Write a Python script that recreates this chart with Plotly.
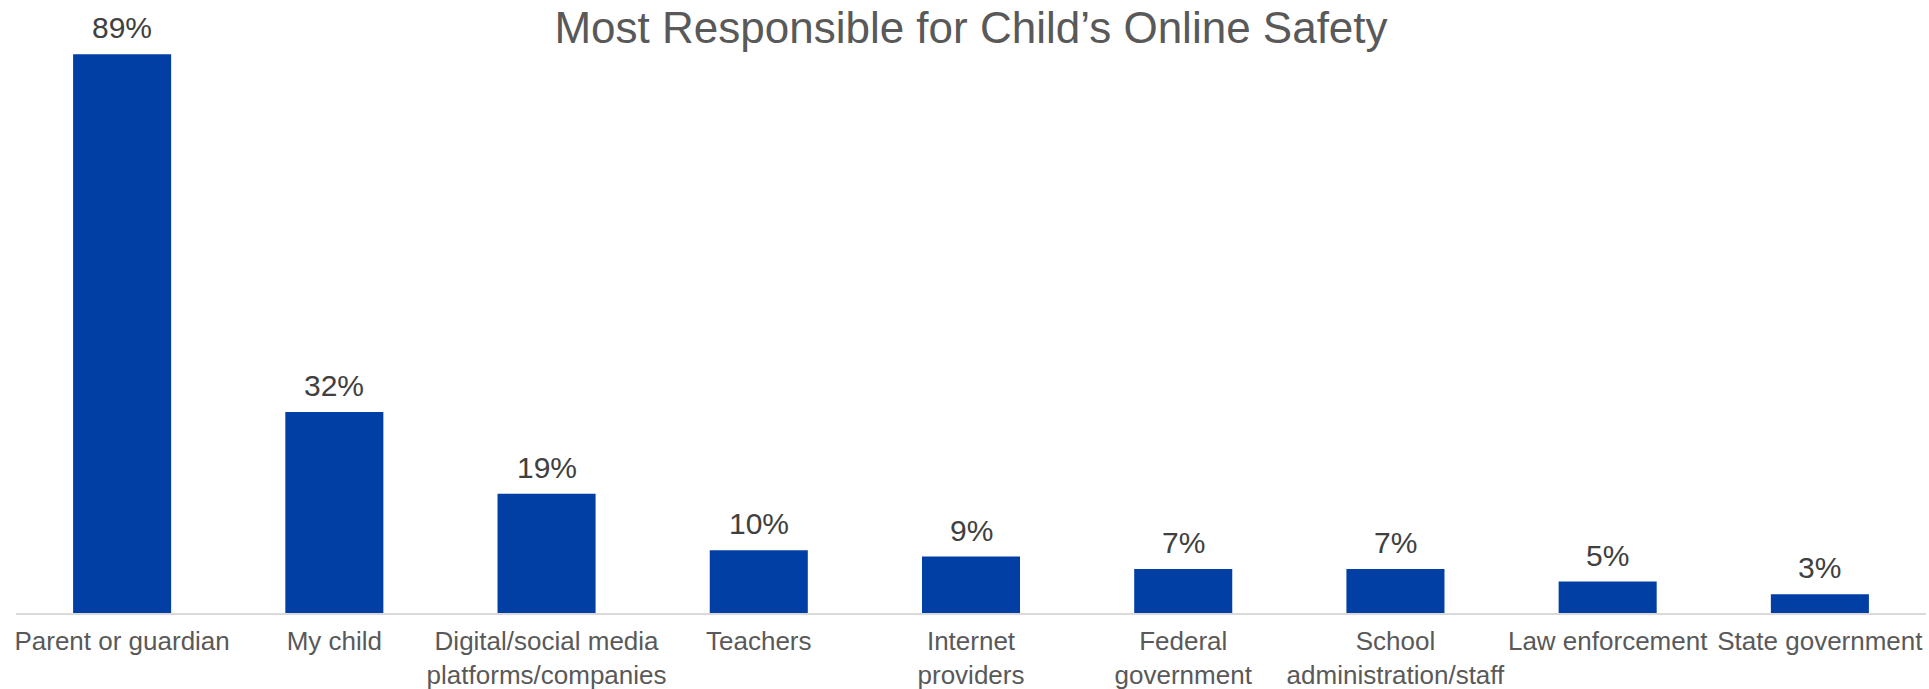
import plotly.graph_objects as go

# Survey results: who parents consider most responsible for their child's online safety
categories = [
    "Parent or guardian",
    "My child",
    "Digital/social media<br>platforms/companies",
    "Teachers",
    "Internet<br>providers",
    "Federal<br>government",
    "School<br>administration/staff",
    "Law enforcement",
    "State government",
]
shares = [89, 32, 19, 10, 9, 7, 7, 5, 3]
share_labels = [f"{v}%" for v in shares]

BAR_BLUE = "#023FA5"
FONT = "Liberation Sans, Arial, sans-serif"

fig = go.Figure()
fig.add_trace(go.Bar(
    x=categories,
    y=shares,
    marker=dict(color=BAR_BLUE, line=dict(width=0)),
    hoverinfo="skip",
))

# value labels sitting just above each bar
for cat, val, lab in zip(categories, shares, share_labels):
    fig.add_annotation(
        x=cat, y=val, text=lab, showarrow=False,
        xref="x", yref="y", yanchor="bottom", yshift=8,
        font=dict(family=FONT, size=30, color="#404040"),
    )

fig.update_layout(
    width=1929, height=689,
    template="none",
    paper_bgcolor="white", plot_bgcolor="white",
    margin=dict(l=16, r=3, t=48, b=76),
    bargap=0.538,
    showlegend=False,
    title=dict(
        text="Most Responsible for Child’s Online Safety",
        x=0.5, xanchor="center", xref="paper",
        y=0.982, yanchor="top", yref="container",
        font=dict(family=FONT, size=44, color="#595959"),
    ),
    xaxis=dict(
        showline=True, linecolor="#D9D9D9", linewidth=2,
        showgrid=False, zeroline=False, ticks="",
        ticklabelstandoff=4,
        automargin=False,
        tickfont=dict(family=FONT, size=26, color="#595959"),
    ),
    yaxis=dict(
        range=[0, 90], visible=False, showgrid=False, zeroline=False,
        automargin=False,
    ),
)

fig.write_html("out.html")
